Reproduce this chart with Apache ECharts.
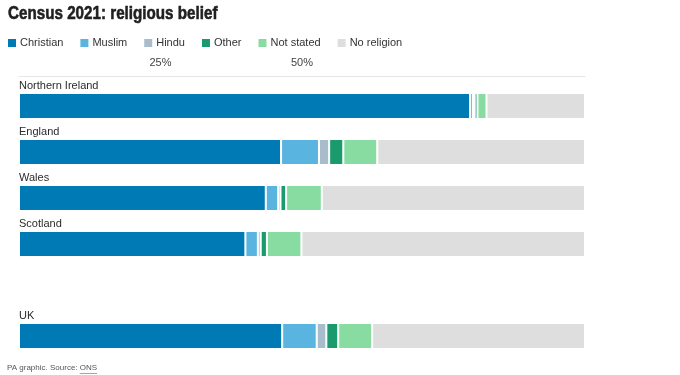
<!DOCTYPE html>
<html>
<head>
<meta charset="utf-8">
<script src="https://cdn.jsdelivr.net/npm/echarts@6/dist/echarts.min.js"></script>
<style>
  html, body { margin: 0; padding: 0; background: #fff; }
  #chart { width: 680px; height: 375px; }
</style>
</head>
<body>
<div id="chart"></div>
<script>
"use strict";
// 国家/地区（空行用于与 UK 隔开）
var regions = ['Northern Ireland', 'England', 'Wales', 'Scotland', '', 'UK'];
var beliefs = ['Christian', 'Muslim', 'Hindu', 'Other', 'Not stated', 'No religion'];
var colors = ['#007ab5', '#5ab4e0', '#a8bccb', '#1b9b6d', '#88dca1', '#dedede'];

// 百分比，每行依次为 regions 的值
var christian  = [79.7, 46.3, 43.6, 40.0, '-', 46.5];
var muslim     = [0.5, 6.7, 2.2, 2.2, '-', 6.1];
var hindu      = [0.3, 1.8, 0.4, 0.5, '-', 1.7];
var other      = [0.5, 2.5, 1.0, 1.1, '-', 2.1];
var notStated  = [1.6, 6.0, 6.3, 6.1, '-', 6.0];
var noReligion = [17.4, 36.7, 46.5, 50.1, '-', 37.6];
var values = [christian, muslim, hindu, other, notStated, noReligion];

var font = 'Liberation Sans';
var footFont = '8px ' + font;
var footPre = 'PA graphic. Source: ';

// 量一下文字宽度，用来给 ONS 加下划线
function textWidth(str, f) {
    var ctx = document.createElement('canvas').getContext('2d');
    ctx.font = f;
    return ctx.measureText(str).width;
}

function initGraph() {
    var myChart = echarts.init(document.getElementById('chart'));
    var series = beliefs.map(function (name, i) {
        var s = {
            name: name,
            type: 'bar',
            stack: 'total',
            barWidth: 26,
            data: values[i],
            itemStyle: { color: colors[i], borderColor: '#fff', borderWidth: 1 },
            emphasis: { disabled: true }
        };
        if (i === 0) {
            s.label = {
                show: true,
                position: [0, -13],
                formatter: function (p) { return p.name; },
                color: '#2b2b2b',
                fontSize: 11,
                fontFamily: font
            };
        }
        return s;
    });

    var preW = textWidth(footPre, footFont);
    var onsW = textWidth('ONS', footFont);

    var option = {
        animation: false,
        legend: {
            data: beliefs,
            left: 1,
            top: 32,
            icon: 'rect',
            itemWidth: 10,
            itemHeight: 10,
            itemGap: 15,
            selectedMode: false,
            textStyle: { fontSize: 11, color: '#333', fontFamily: font, padding: [0, 0, 0, -2] }
        },
        grid: { left: 19, right: 95, top: 83, bottom: 16, containLabel: false },
        xAxis: {
            type: 'value',
            position: 'top',
            min: 0,
            max: 100,
            interval: 25,
            offset: 7,
            axisLine: { show: true, lineStyle: { color: '#e6e6e6' } },
            axisTick: { show: false },
            splitLine: { show: false },
            axisLabel: {
                margin: 8,
                color: '#444',
                fontSize: 11,
                fontFamily: font,
                formatter: function (v) { return (v === 25 || v === 50) ? v + '%' : ''; }
            }
        },
        yAxis: {
            type: 'category',
            inverse: true,
            data: regions,
            axisLine: { show: false },
            axisTick: { show: false },
            axisLabel: { show: false }
        },
        series: series,
        graphic: [
            // 标题字体较窄，用横向缩放模拟
            {
                type: 'text',
                x: 8,
                y: 4,
                scaleX: 0.8,
                style: {
                    text: 'Census 2021: religious belief',
                    fill: '#1f1f1f',
                    font: 'bold 19px ' + font,
                    stroke: '#1f1f1f',
                    lineWidth: 0.6
                }
            },
            {
                type: 'text',
                left: 7,
                top: 364,
                style: { text: footPre + 'ONS', fill: '#555', font: footFont }
            },
            {
                type: 'line',
                shape: { x1: 7 + preW, y1: 373.5, x2: 7 + preW + onsW, y2: 373.5 },
                style: { stroke: '#666', lineWidth: 0.6 }
            }
        ]
    };
    myChart.setOption(option);
    return myChart;
}

var myChart = initGraph();
window.onresize = function () {
    myChart.resize();
};
</script>
</body>
</html>
